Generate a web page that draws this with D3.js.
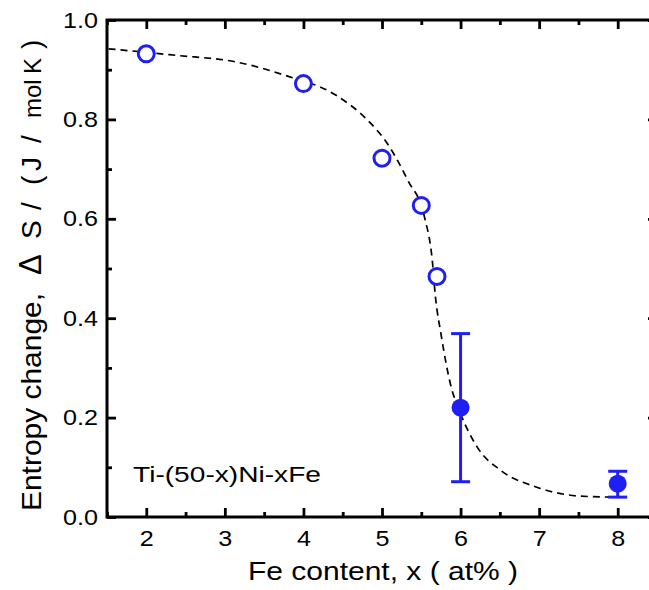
<!DOCTYPE html>
<html><head><meta charset="utf-8">
<script src="https://cdn.jsdelivr.net/npm/d3@7"></script>
<style>body{margin:0;background:#fff}svg{display:block}text{font-family:"Liberation Sans",Arial,sans-serif}</style>
</head><body>
<svg id="c" width="649" height="590"></svg>
<script>
// Data
const openX = [2, 4, 5, 5.5, 5.7];
const openY = [0.932, 0.872, 0.722, 0.627, 0.484];
const filledX = [6, 8];
const filledY = [0.220, 0.067];
const errLow = [0.071, 0.040];
const errHigh = [0.369, 0.092];
const curveX = [1.52, 2.0, 2.37, 3.13, 3.76, 4.4, 4.82, 5.07, 5.33, 5.54, 5.64, 5.68, 5.75, 5.87, 6.0, 6.21, 6.51, 6.97, 7.52, 7.94];
const curveY = [0.942, 0.935, 0.929, 0.916, 0.889, 0.85, 0.798, 0.751, 0.677, 0.604, 0.516, 0.443, 0.369, 0.268, 0.208, 0.141, 0.094, 0.060, 0.042, 0.040];
const xTicks = [2, 3, 4, 5, 6, 7, 8];
const yTicks = [0.0, 0.2, 0.4, 0.6, 0.8, 1.0];

const svg = d3.select("#c");
const L = 107, R = 657, T = 20, B = 517;
const x = d3.scaleLinear().domain([1.5, 8.5]).range([L, R]);
const y = d3.scaleLinear().domain([0, 1]).range([B, T]);
const blue = "#1f1ff5";

const xMinor = d3.range(1.5, 8.51, 0.5).filter(v => !xTicks.includes(v));
const yMinor = d3.range(0.1, 1.0, 0.2);

function styleAxis(g) {
  g.select(".domain").remove();
  g.selectAll("line").attr("stroke", "#000").attr("stroke-width", 2.8);
  g.selectAll("text").attr("fill", "#000");
}
// bottom
svg.append("g").attr("transform", `translate(0,${B})`)
  .call(d3.axisBottom(x).tickValues(xTicks).tickSizeInner(-9).tickSizeOuter(0).tickPadding(13).tickFormat(d3.format("d")))
  .call(styleAxis).call(g => g.selectAll("text").attr("font-size", 22).attr("textLength", 14).attr("lengthAdjust", "spacingAndGlyphs"));
svg.append("g").attr("transform", `translate(0,${B})`)
  .call(d3.axisBottom(x).tickValues(xMinor).tickSizeInner(-5).tickSizeOuter(0).tickFormat(""))
  .call(styleAxis);
// top
svg.append("g").attr("transform", `translate(0,${T})`)
  .call(d3.axisTop(x).tickValues(xTicks).tickSizeInner(-9).tickSizeOuter(0).tickFormat(""))
  .call(styleAxis);
svg.append("g").attr("transform", `translate(0,${T})`)
  .call(d3.axisTop(x).tickValues(xMinor).tickSizeInner(-5).tickSizeOuter(0).tickFormat(""))
  .call(styleAxis);
// left
svg.append("g").attr("transform", `translate(${L},0)`)
  .call(d3.axisLeft(y).tickValues(yTicks).tickSizeInner(-9).tickSizeOuter(0).tickPadding(9).tickFormat(d3.format(".1f")))
  .call(styleAxis).call(g => g.selectAll("text").attr("font-size", 22).attr("textLength", 35).attr("lengthAdjust", "spacingAndGlyphs"));
svg.append("g").attr("transform", `translate(${L},0)`)
  .call(d3.axisLeft(y).tickValues(yMinor).tickSizeInner(-5).tickSizeOuter(0).tickFormat(""))
  .call(styleAxis);
// right
svg.append("g").attr("transform", `translate(${R},0)`)
  .call(d3.axisRight(y).tickValues(yTicks).tickSizeInner(-9).tickSizeOuter(0).tickFormat(""))
  .call(styleAxis);
svg.append("g").attr("transform", `translate(${R},0)`)
  .call(d3.axisRight(y).tickValues(yMinor).tickSizeInner(-5).tickSizeOuter(0).tickFormat(""))
  .call(styleAxis);

// frame
svg.append("rect").attr("x", L).attr("y", T).attr("width", R - L).attr("height", B - T)
  .attr("fill", "none").attr("stroke", "#000").attr("stroke-width", 3);

// curve
const pts = curveX.map((v, i) => [v, curveY[i]]);
svg.append("path").datum(pts)
  .attr("d", d3.line().x(d => x(d[0])).y(d => y(d[1])).curve(d3.curveMonotoneX))
  .attr("fill", "none").attr("stroke", "#000").attr("stroke-width", 1.7).attr("stroke-dasharray", "7,5");

// error bars
filledX.forEach((v, i) => {
  const g = svg.append("g").attr("stroke", blue).attr("stroke-width", 3);
  g.append("line").attr("x1", x(v)).attr("x2", x(v)).attr("y1", y(errLow[i])).attr("y2", y(errHigh[i]));
  [errLow[i], errHigh[i]].forEach(e => g.append("line").attr("x1", x(v) - 9.5).attr("x2", x(v) + 9.5).attr("y1", y(e)).attr("y2", y(e)));
});
// filled
svg.selectAll("circle.f").data(filledX).enter().append("circle")
  .attr("cx", d => x(d)).attr("cy", (d, i) => y(filledY[i])).attr("r", 9).attr("fill", blue);
// open
svg.selectAll("circle.o").data(openX).enter().append("circle")
  .attr("cx", d => x(d)).attr("cy", (d, i) => y(openY[i])).attr("r", 8)
  .attr("fill", "#fff").attr("stroke", blue).attr("stroke-width", 3);

// annotation
svg.append("text").attr("x", 133).attr("y", 482).attr("font-size", 22)
  .attr("textLength", 188).attr("lengthAdjust", "spacingAndGlyphs").text("Ti-(50-x)Ni-xFe");

// x label
svg.append("text").attr("x", 248).attr("y", 580).attr("font-size", 26)
  .attr("textLength", 270).attr("lengthAdjust", "spacingAndGlyphs")
  .text("Fe content, x ( at% )");
// y label: pieces placed upward from y=511
const parts = [
  ["Entropy change,", 0, 28, 218],
  ["Δ", 236, 31, 0],
  ["S", 272, 28, 0],
  ["/", 301, 28, 0],
  ["(", 326, 28, 0],
  ["J", 340, 28, 0],
  ["/", 368, 28, 0],
  ["mol", 393, 24, 0],
  ["K", 437, 24, 0],
  [")", 462, 28, 0]
];
const yl = svg.append("g");
parts.forEach(p => {
  const t = yl.append("text").attr("transform", `translate(41,${511 - p[1]}) rotate(-90)`)
    .attr("font-size", p[2]).text(p[0]);
  if (p[3]) t.attr("textLength", p[3]).attr("lengthAdjust", "spacingAndGlyphs");
});
</script>
</body></html>
